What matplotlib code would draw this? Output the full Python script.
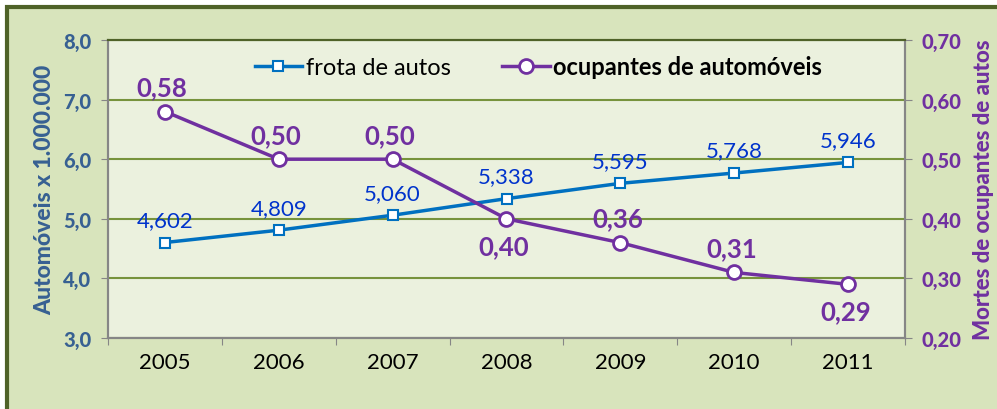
import matplotlib
matplotlib.use('Agg')
import matplotlib.pyplot as plt
from matplotlib.patches import Rectangle
from matplotlib.lines import Line2D

anos = ['2005', '2006', '2007', '2008', '2009', '2010', '2011']
frota = [4.602, 4.809, 5.060, 5.338, 5.595, 5.768, 5.946]
mortes = [0.58, 0.50, 0.50, 0.40, 0.36, 0.31, 0.29]
# posicao do rotulo de mortes: acima (1) ou abaixo (-1) do ponto
lado_mortes = [1, 1, 1, -1, 1, 1, -1]
ticks_esq = [3, 4, 5, 6, 7, 8]
ticks_dir = [0.2, 0.3, 0.4, 0.5, 0.6, 0.7]

AZUL = '#0070C0'
AZUL_TXT = '#0033CC'
ROXO = '#7030A0'
EIXO_ESQ = '#376092'
GRADE = '#77933C'

plt.rcParams['font.family'] = ['Lato', 'DejaVu Sans']

fig = plt.figure(figsize=(9.97, 4.10), dpi=100)
fig.patch.set_facecolor('white')
fig.add_artist(Rectangle((7 / 997, -0.05), 1.0, (410 - 8) / 410 + 0.05,
                         transform=fig.transFigure, facecolor='#D8E4BC',
                         edgecolor='#4F6228', linewidth=3, zorder=-5))

ax = fig.add_axes([108 / 997, 1 - 339 / 410, (905 - 108) / 997, (339 - 41) / 410])
ax.set_facecolor('#EBF1DE')
ax2 = ax.twinx()

x = list(range(len(anos)))
ax.set_xlim(-0.5, len(anos) - 0.5)
ax.set_ylim(3, 8)
ax2.set_ylim(0.2, 0.7)

ax.set_yticks(ticks_esq)
ax.set_yticklabels([f'{v:.1f}'.replace('.', ',') for v in ticks_esq],
                   fontdict={'fontweight': 900, 'fontsize': 14.5, 'color': EIXO_ESQ})
ax2.set_yticks(ticks_dir)
ax2.set_yticklabels([f'{v:.2f}'.replace('.', ',') for v in ticks_dir],
                    fontdict={'fontweight': 900, 'fontsize': 14.5, 'color': ROXO})

ax.set_xticks([i - 0.5 for i in range(len(anos) + 1)], minor=False)
ax.set_xticklabels([])
ax.set_xticks(x, minor=True)
ax.set_xticklabels(anos, minor=True, fontsize=16, color='black')
ax.tick_params(axis='x', which='major', length=5, color='#868686')
ax.tick_params(axis='x', which='minor', length=0, pad=10)
ax.tick_params(axis='y', length=5, color='#868686', pad=7)
ax2.tick_params(axis='y', length=5, color='#868686', pad=7)

ax.grid(axis='y', color=GRADE, linewidth=1.5)
ax.set_axisbelow(True)
for a in (ax, ax2):
    for s in ('left', 'right', 'bottom'):
        a.spines[s].set_color('#868686')
        a.spines[s].set_linewidth(1.5)
    a.spines['top'].set_color('#4F6228')
    a.spines['top'].set_linewidth(1.5)

ax.set_ylabel('Automóveis x 1.000.000', color=EIXO_ESQ, fontweight=900,
              fontsize=16.5, labelpad=6)
ax2.set_ylabel('Mortes de ocupantes de autos', color=ROXO, fontweight=900,
               fontsize=16, labelpad=8)

ax.plot(x, frota, color=AZUL, linewidth=2.5, marker='s', markersize=7,
        markerfacecolor='white', markeredgecolor=AZUL, markeredgewidth=1.5, zorder=3)
for xi, v in zip(x, frota):
    ax.annotate(f'{v:.3f}'.replace('.', ','), (xi, v), xytext=(0, 9),
                textcoords='offset points', ha='center', va='bottom',
                color=AZUL_TXT, fontsize=16)

ax2.plot(x, mortes, color=ROXO, linewidth=2.5, marker='o', markersize=10,
         markerfacecolor='white', markeredgecolor=ROXO, markeredgewidth=2, zorder=3)
for xi, v, lado in zip(x, mortes, lado_mortes):
    dy = 9 if lado > 0 else -11
    ax2.annotate(f'{v:.2f}'.replace('.', ','), (xi, v), xytext=(-2, dy),
                 textcoords='offset points', ha='center',
                 va='bottom' if lado > 0 else 'top',
                 color=ROXO, fontsize=18.5, fontweight='bold')

h1 = Line2D([], [], color=AZUL, linewidth=2.5, marker='s', markersize=7,
            markerfacecolor='white', markeredgecolor=AZUL, markeredgewidth=1.5)
h2 = Line2D([], [], color=ROXO, linewidth=2.5, marker='o', markersize=10,
            markerfacecolor='white', markeredgecolor=ROXO, markeredgewidth=2)
leg = ax2.legend([h1, h2], ['frota de autos', 'ocupantes de automóveis'],
                 loc='upper center', bbox_to_anchor=(0.54, 1.02), ncol=2,
                 frameon=False, fontsize=17, handlelength=2.0, handletextpad=0.15,
                 columnspacing=2.2)
leg.get_texts()[1].set_fontweight('bold')

fig.savefig('out.png', dpi=100)
